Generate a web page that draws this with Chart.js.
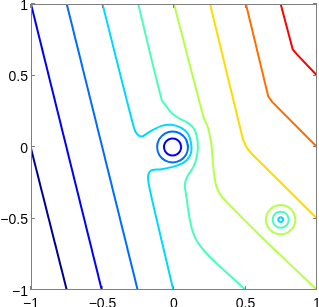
<!DOCTYPE html>
<html>
<head>
<meta charset="utf-8">
<script src="https://cdn.jsdelivr.net/npm/chart.js@4"></script>
<style>
  html, body { margin: 0; padding: 0; background: #fff; }
  #wrap { width: 319px; height: 307px; }
</style>
</head>
<body>
<div id="wrap"><canvas id="contourChart"></canvas></div>
<script>
const xTicks = [-1, -0.5, 0, 0.5, 1];
const yTicks = [-1, -0.5, 0, 0.5, 1];

// contour lines, [x, y] pairs, lowest level first
const level1 = [[-1, -0.01], [-0.75, -1]];
const level2 = [[-1, 1], [-0.505, -1]];
const level2Ring = [[0.05, 0], [0.042, 0.03], [0.02, 0.052], [-0.01, 0.06], [-0.04, 0.052], [-0.062, 0.03], [-0.07, 0],
  [-0.062, -0.03], [-0.04, -0.052], [-0.01, -0.06], [0.02, -0.052], [0.042, -0.03], [0.05, 0], [0.042, 0.03]];
const level3 = [[-0.75, 1], [-0.254, -1]];
const level3Ring = [[0.098, 0], [0.084, 0.054], [0.044, 0.094], [-0.01, 0.108], [-0.064, 0.094], [-0.104, 0.054], [-0.118, 0],
  [-0.104, -0.054], [-0.064, -0.094], [-0.01, -0.108], [0.044, -0.094], [0.084, -0.054], [0.098, 0], [0.084, 0.054]];
const level4 = [[-0.5, 1], [-0.28, 0.134], [-0.259, 0.092], [-0.226, 0.073], [-0.168, 0.108], [-0.086, 0.148], [-0.016, 0.155],
  [0.054, 0.132], [0.098, 0.092], [0.119, 0.028], [0.119, -0.042], [0.089, -0.092], [0.03, -0.127], [-0.086, -0.155],
  [-0.156, -0.162], [-0.18, -0.197], [-0.175, -0.268], [-0.098, -0.606], [-0.005, -1]];
const level4Ring = [[0.763, -0.508], [0.758, -0.496], [0.746, -0.491], [0.734, -0.496], [0.729, -0.508], [0.734, -0.52],
  [0.746, -0.525], [0.758, -0.52], [0.763, -0.508], [0.758, -0.496]];
const level5 = [[-0.25, 1], [-0.086, 0.331], [-0.056, 0.289], [-0.016, 0.237], [0.042, 0.197], [0.1, 0.167], [0.14, 0.127],
  [0.159, 0.073], [0.167, 0.002], [0.159, -0.068], [0.135, -0.141], [0.098, -0.197], [0.08, -0.239], [0.077, -0.289],
  [0.159, -0.655], [0.5, -1]];
const level5Ring = [[0.802, -0.508], [0.7945, -0.48], [0.774, -0.4595], [0.746, -0.452], [0.718, -0.4595], [0.6975, -0.48],
  [0.69, -0.508], [0.6975, -0.536], [0.718, -0.5565], [0.746, -0.564], [0.774, -0.5565], [0.7945, -0.536], [0.802, -0.508], [0.7945, -0.48]];
const level6 = [[0, 1], [0.205, 0.213], [0.238, 0.134], [0.262, 0.014], [0.273, -0.127], [0.294, -0.268], [0.322, -0.331],
  [0.371, -0.387], [0.624, -0.641], [1, -1]];
const level6Ring = [[0.849, -0.508], [0.835, -0.4565], [0.7975, -0.419], [0.746, -0.405], [0.6945, -0.419], [0.657, -0.4565],
  [0.643, -0.508], [0.657, -0.5595], [0.6945, -0.597], [0.746, -0.611], [0.7975, -0.597], [0.835, -0.5595], [0.849, -0.508], [0.835, -0.4565]];
const level7 = [[0.252, 1], [0.483, 0.049], [0.51, -0.007], [0.545, -0.049], [1, -0.5]];
const level8 = [[0.503, 1], [0.659, 0.354], [0.685, 0.317], [1, 0]];
const level9 = [[0.746, 1], [0.83, 0.683], [0.86, 0.648], [1, 0.5]];

// jet colours for the nine levels
const levelColors = ["#00008f", "#0000fc", "#006bff", "#00d9ff", "#47ffb8", "#b5ff4a", "#ffdb00", "#ff6e00", "#ff0000"];

const lines = [
  [level1, 0, 0], [level2, 1, 0], [level2Ring, 1, 0.4], [level3, 2, 0], [level3Ring, 2, 0.4],
  [level4, 3, 0.3], [level4Ring, 3, 0.4], [level5, 4, 0.3], [level5Ring, 4, 0.4],
  [level6, 5, 0.2], [level6Ring, 5, 0.4], [level7, 6, 0], [level8, 7, 0], [level9, 8, 0]
];

const fmt = v => String(v).replace("-", "\u2212");

const frame = {
  id: "frame",
  afterDatasetsDraw(chart) {
    const { ctx, chartArea: a, scales: { x, y } } = chart;
    ctx.save();
    ctx.strokeStyle = "#7f7f7f";
    ctx.lineWidth = 1;
    ctx.strokeRect(a.left + 0.5, a.top + 0.5, a.right - a.left - 1, a.bottom - a.top - 1);
    ctx.beginPath();
    xTicks.forEach(v => {
      const px = Math.round(x.getPixelForValue(v)) - 0.5;
      ctx.moveTo(px, a.bottom); ctx.lineTo(px, a.bottom - 4);
      ctx.moveTo(px, a.top); ctx.lineTo(px, a.top + 4);
    });
    yTicks.forEach(v => {
      const py = Math.round(y.getPixelForValue(v)) - 0.5;
      ctx.moveTo(a.left, py); ctx.lineTo(a.left + 4, py);
      ctx.moveTo(a.right, py); ctx.lineTo(a.right - 4, py);
    });
    ctx.stroke();
    ctx.restore();
  }
};

const tickFont = { family: "'Liberation Sans', Arial, Helvetica, sans-serif", size: 14 };

new Chart(document.getElementById("contourChart"), {
  type: "scatter",
  data: {
    datasets: lines.map(([pts, lvl, tension]) => ({
      data: pts.map(([x, y]) => ({ x, y })),
      showLine: true,
      borderColor: levelColors[lvl],
      borderWidth: 2,
      pointRadius: 0,
      tension
    }))
  },
  options: {
    responsive: true,
    maintainAspectRatio: false,
    animation: false,
    layout: { padding: { top: 4, right: 2, left: 0, bottom: 0 } },
    plugins: { legend: { display: false }, tooltip: { enabled: false } },
    scales: {
      x: {
        type: "linear", min: -1, max: 1,
        grid: { display: false, drawTicks: false },
        border: { display: false },
        afterBuildTicks: s => { s.ticks = xTicks.map(v => ({ value: v })); },
        afterFit: s => { s.height = 17; s.paddingLeft = 0; s.paddingRight = 0; },
        ticks: { color: "#000", font: tickFont, padding: 6, maxRotation: 0, autoSkip: false, callback: v => fmt(v) }
      },
      y: {
        type: "linear", min: -1, max: 1,
        grid: { display: false, drawTicks: false },
        border: { display: false },
        afterBuildTicks: s => { s.ticks = yTicks.map(v => ({ value: v })); },
        afterFit: s => { s.width = 31; s.paddingTop = 0; s.paddingBottom = 0; },
        ticks: { color: "#000", font: tickFont, padding: 3, labelOffset: 2, autoSkip: false, callback: v => fmt(v) }
      }
    }
  },
  plugins: [frame]
});
</script>
</body>
</html>
